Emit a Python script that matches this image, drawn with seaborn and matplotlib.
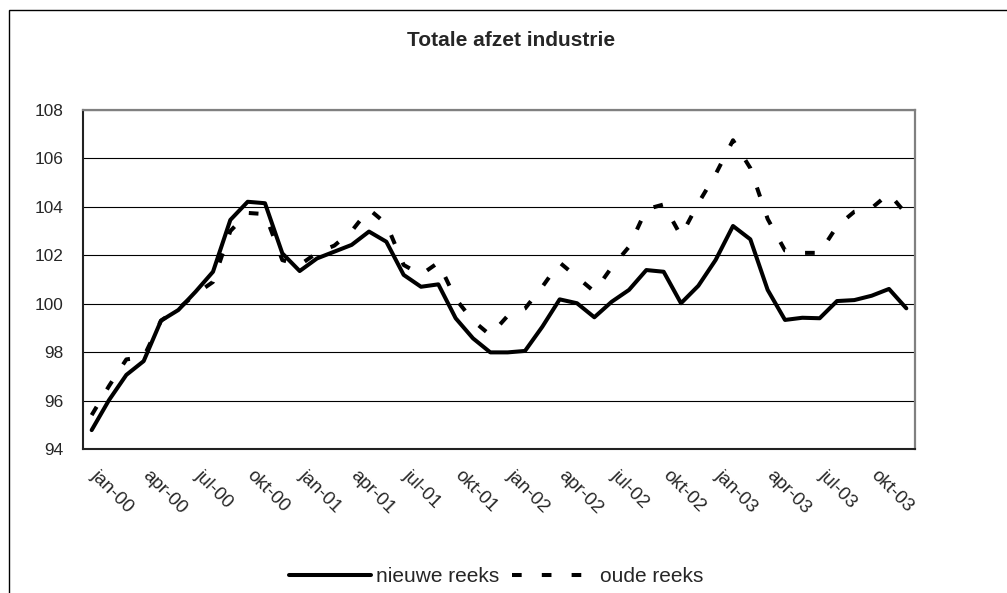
import numpy as np
import pandas as pd
import matplotlib
matplotlib.use("Agg")
import matplotlib.pyplot as plt
from matplotlib.patches import Rectangle
from matplotlib.transforms import ScaledTranslation
import seaborn as sns

# ---- data ----
months = ['jan', 'feb', 'mrt', 'apr', 'mei', 'jun', 'jul', 'aug', 'sep', 'okt', 'nov', 'dec']
years = ['00', '01', '02', '03']
categories = [f'{m}-{y}' for y in years for m in months]

nieuwe_reeks = [94.78, 96.02, 97.06, 97.63, 99.30, 99.74, 100.50, 101.32, 103.46, 104.21,
                104.15, 102.08, 101.35, 101.87, 102.15, 102.43, 102.98, 102.56, 101.19, 100.70,
                100.80, 99.40, 98.57, 97.99, 97.99, 98.05, 99.05, 100.18, 100.02, 99.44,
                100.08, 100.57, 101.39, 101.32, 100.02, 100.74, 101.81, 103.21, 102.66, 100.57,
                99.33, 99.42, 99.40, 100.11, 100.15, 100.33, 100.61, 99.81]
oude_reeks = [95.40, 96.60, 97.70, 97.80, 99.30, 99.80, 100.40, 100.90, 103.00, 103.75,
              103.70, 101.80, 101.60, 102.10, 102.40, 103.00, 103.90, 103.30, 101.60, 101.20,
              101.70, 100.20, 99.30, 98.70, 99.50, 99.80, 100.70, 101.70, 101.10, 100.50,
              101.50, 102.35, 103.90, 104.10, 102.80, 104.15, 105.35, 106.75, 105.60, 103.50,
              102.20, 102.10, 102.10, 103.20, 103.80, 103.95, 104.55, 103.70]
series_names = ['nieuwe reeks', 'oude reeks']
y_ticks = [94, 96, 98, 100, 102, 104, 106, 108]
title = 'Totale afzet industrie'

df = pd.DataFrame({
    'pos': list(range(len(categories))) * 2,
    'waarde': nieuwe_reeks + oude_reeks,
    'reeks': [series_names[0]] * len(categories) + [series_names[1]] * len(categories),
})

# ---- style ----
sns.set_style('white')
plt.rcParams['font.family'] = ['Liberation Sans', 'DejaVu Sans']

W, H = 1007, 593
fig = plt.figure(figsize=(W / 100, H / 100), dpi=100)
ax = fig.add_axes([83 / W, 1 - 449 / H, (915 - 83) / W, (449 - 110) / H])

sns.lineplot(data=df, x='pos', y='waarde', style='reeks', color='black',
             dashes={'nieuwe reeks': '', 'oude reeks': (2.4, 5.0)},
             linewidth=2.9, ax=ax, legend=True, zorder=3)

ax.set_xlim(-0.5, len(categories) - 0.5)
ax.set_ylim(94, 108)
ax.set_xlabel('')
ax.set_ylabel('')

# y axis
ax.set_yticks(y_ticks)
ax.set_yticklabels([str(v) for v in y_ticks], fontsize=12.4)
ax.tick_params(axis='y', direction='out', length=6 * 0.72, width=1, color='black', pad=10)
ax.grid(axis='y', color='black', linewidth=0.8, zorder=1)
ax.grid(axis='x', visible=False)

# x axis: labels every 3 months, tick marks at category boundaries
label_pos = list(range(0, len(categories), 3))
ax.set_xticks(label_pos)
ax.set_xticklabels([categories[i] for i in label_pos], fontsize=13.5, rotation=-45,
                   ha='left', va='top', rotation_mode='anchor')
ax.tick_params(axis='x', which='major', length=0, pad=13)
shift = ScaledTranslation(8 / 100, 0, fig.dpi_scale_trans)
for lbl in ax.get_xticklabels():
    lbl.set_transform(lbl.get_transform() + shift)
ax.set_xticks(np.arange(-0.5, len(categories), 3), minor=True)
ax.tick_params(axis='x', which='minor', direction='out', length=6 * 0.72, width=1, color='black')

for side in ['left', 'bottom']:
    ax.spines[side].set_color('#222222')
    ax.spines[side].set_linewidth(1.5)
for side in ['top', 'right']:
    ax.spines[side].set_color('#808080')
    ax.spines[side].set_linewidth(1.6)
for s in ax.spines.values():
    s.set_visible(True)

# title
fig.text(511.5 / W, 1 - 46 / H, title, ha='center', va='baseline',
         fontsize=15, fontweight='bold')

# legend
handles, labels = ax.get_legend_handles_labels()
ax.get_legend().remove()
fig.legend(handles, labels, loc='center', bbox_to_anchor=(496 / W, 1 - 577 / H),
           ncol=2, frameon=False, fontsize=15, handlelength=3.95,
           handletextpad=0.25, columnspacing=0.6)

# chart-area border
fig.add_artist(Rectangle((8.5 / W, -0.2), 1.5, 1.2 - 9.5 / H, transform=fig.transFigure,
                         fill=False, edgecolor='black', linewidth=1.0))

fig.savefig('out.png', dpi=100)
